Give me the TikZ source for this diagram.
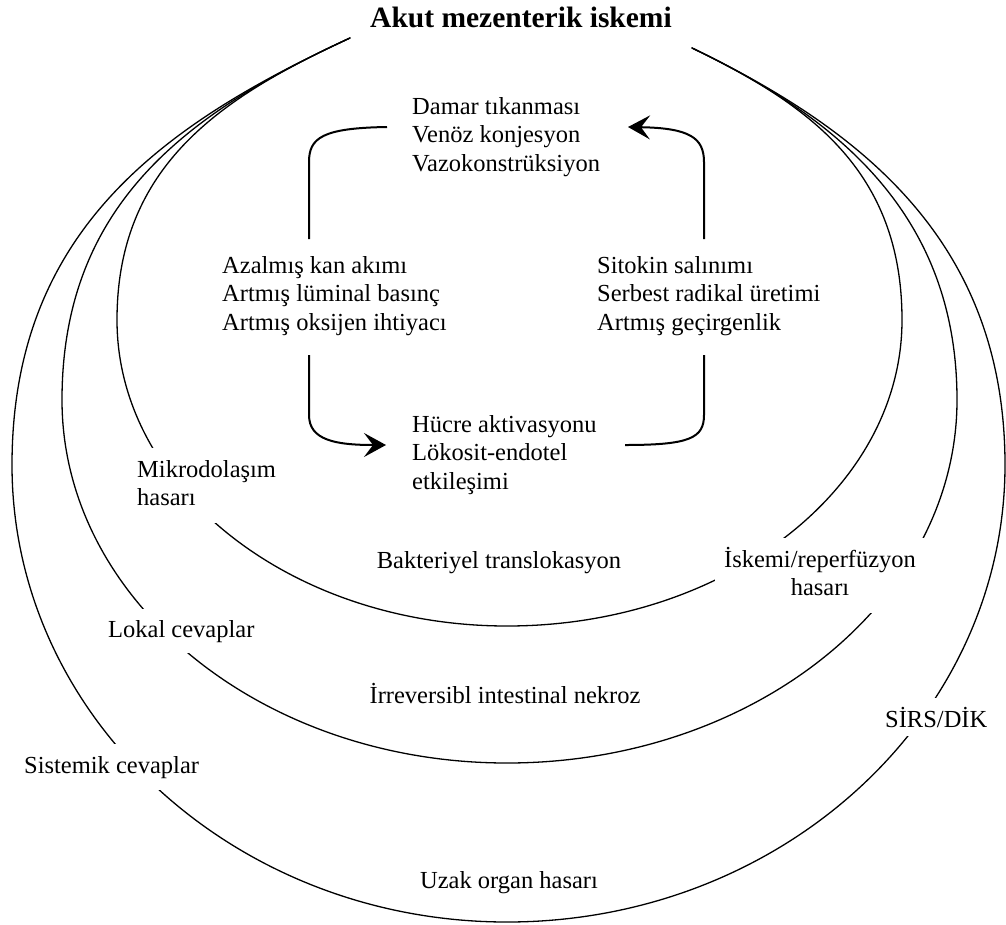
\documentclass[tikz,border=0pt]{standalone}
\usepackage{fontspec}
\setmainfont{Liberation Serif}
\usetikzlibrary{arrows.meta}
\begin{document}
\begin{tikzpicture}[x=1pt,y=-1pt,
  loopline/.style={line width=1.3pt, line cap=round},
  cycline/.style={line width=2pt},
  cyctip/.style={-{Stealth[length=22pt,width=24pt,inset=9pt]}},
  lbl/.style={inner sep=0pt, font=\fontsize{24.5}{28.5}\selectfont},
  gap/.style={lbl, fill=white, inner sep=#1},
  gap/.default=9pt,
  ttl/.style={inner sep=0pt, font=\fontsize{29.5}{34}\selectfont\bfseries},
]
\useasboundingbox (0,0) rectangle (1006,924);

% title
\node[ttl, anchor=base] (title) at (521,27) {Akut mezenterik iskemi};
\coordinate (tl) at (350,38);
\coordinate (tr) at (692,48);

% three nested loops (drawn first, labels on white cut their gaps)
\draw[loopline] (tl) .. controls (222,97) and (117,165) .. (117,320)
  .. controls (117,489) and (292,626) .. (507,626)
  .. controls (725,626) and (902,489) .. (902,320)
  .. controls (902,170) and (808,104) .. (tr);
\draw[loopline] (tl) .. controls (192,111) and (62,201) .. (62,400)
  .. controls (62,600) and (261,763) .. (507,763)
  .. controls (755,763) and (957,600) .. (957,400)
  .. controls (957,212) and (834,116) .. (tr);
\draw[loopline] (tl) .. controls (164,124) and (12,230) .. (12,465)
  .. controls (12,717) and (234,922) .. (507,922)
  .. controls (782,922) and (1005,717) .. (1005,465)
  .. controls (1005,242) and (862,130) .. (tr);

% inner cycle texts
\node[lbl, anchor=base west] (damar) at (412,114)
  {\begin{tabular}[t]{@{}l@{}}Damar tıkanması\\Venöz konjesyon\\Vazokonstrüksiyon\end{tabular}};
\node[lbl, anchor=base west] (azal) at (222,273)
  {\begin{tabular}[t]{@{}l@{}}Azalmış kan akımı\\Artmış lüminal basınç\\Artmış oksijen ihtiyacı\end{tabular}};
\node[lbl, anchor=base west] (sitokin) at (597,273)
  {\begin{tabular}[t]{@{}l@{}}Sitokin salınımı\\Serbest radikal üretimi\\Artmış geçirgenlik\end{tabular}};
\node[lbl, anchor=base west] (hucre) at (412,432)
  {\begin{tabular}[t]{@{}l@{}}Hücre aktivasyonu\\Lökosit-endotel\\etkileşimi\end{tabular}};

% labels on the loops
\node[gap, anchor=base west] (mikro) at (128,477)
  {\begin{tabular}[t]{@{}l@{}}Mikrodolaşım\\hasarı\end{tabular}};
\node[lbl, anchor=base] (bakteri) at (499,568) {Bakteriyel translokasyon};
\node[gap, anchor=base] (iskemi) at (820,567)
  {\begin{tabular}[t]{@{}c@{}}İskemi/reperfüzyon\\hasarı\end{tabular}};
\node[gap=11pt, anchor=base west] (lokal) at (97,637) {Lokal cevaplar};
\node[lbl, anchor=base] (irrev) at (505,703) {İrreversibl intestinal nekroz};
\node[gap=12pt, anchor=base west] (sistemik) at (12,773) {Sistemik cevaplar};
\node[gap, anchor=base west] (sirs) at (876,727) {SİRS/DİK};
\node[lbl, anchor=base] (uzak) at (509,888) {Uzak organ hasarı};

% cycle connectors
\coordinate (dL) at (387,127);
\coordinate (dR) at (628,127);
\coordinate (aT) at (309,239);
\coordinate (aB) at (309,355);
\coordinate (sT) at (704,239);
\coordinate (sB) at (704,355);
\coordinate (hL) at (386,445);
\coordinate (hR) at (625,445);
\draw[cycline] (dL) .. controls (322,128) and (309,138) .. (309,162) -- (aT);
\draw[cycline, cyctip] (aB) -- (309,415) .. controls (309,440) and (335,445) .. (hL);
\draw[cycline] (hR) .. controls (690,445) and (704,438) .. (704,415) -- (sB);
\draw[cycline, cyctip] (sT) -- (704,162) .. controls (704,138) and (690,128) .. (dR);
\end{tikzpicture}
\end{document}
